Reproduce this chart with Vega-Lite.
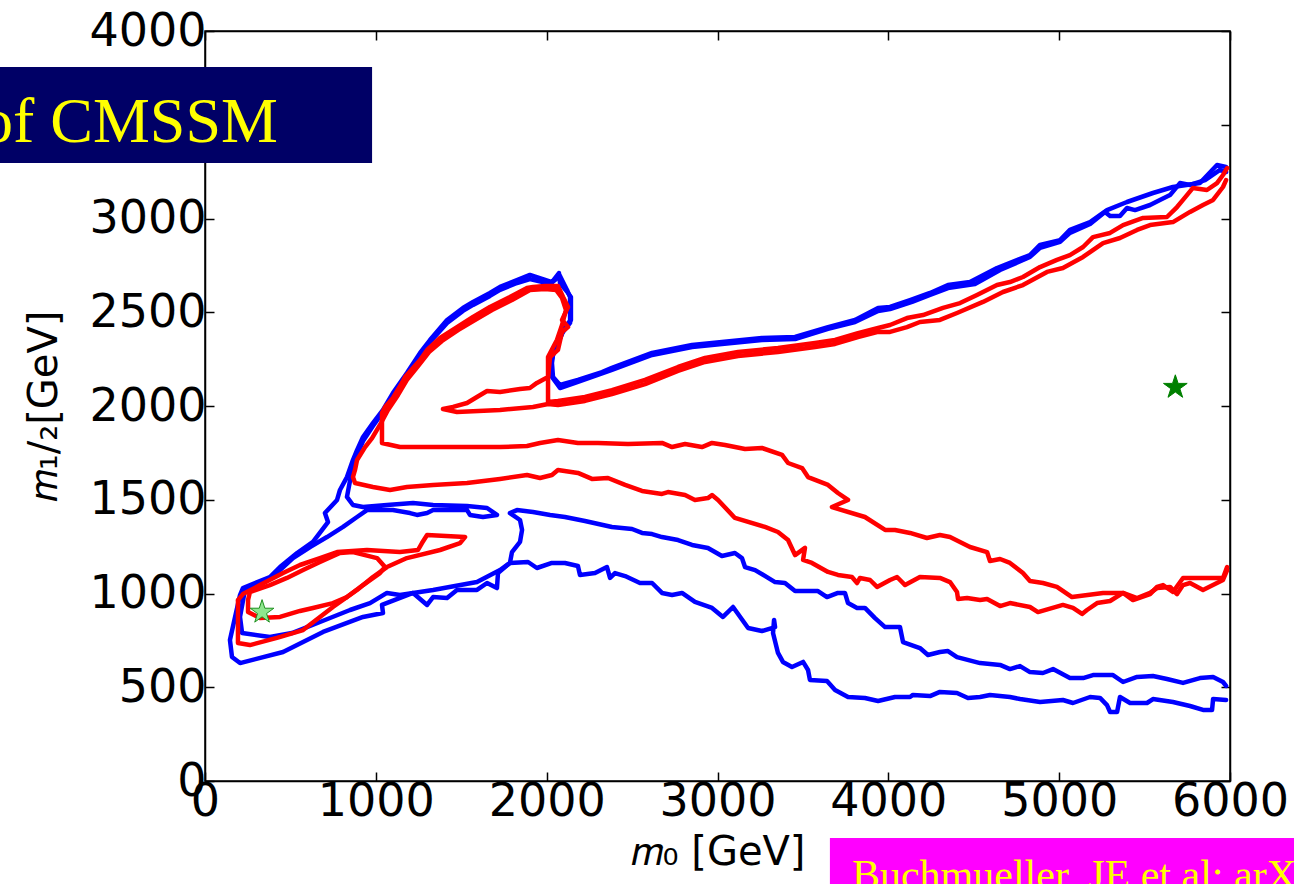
{
"$schema": "https://vega.github.io/schema/vega-lite/v6.json",
"width": 1025, "height": 750,
"autosize": {"type": "none"},
"padding": {"left": 205, "top": 31, "right": 64, "bottom": 103},
"background": "white",
"config": {"view": {"stroke": "black", "strokeWidth": 1.5}},
"datasets": {
"blue": [
{"c":"A","x":5977,"y":3275},{"c":"A","x":5924,"y":3285},{"c":"A","x":5824,"y":3189},{"c":"A","x":5666,"y":3168},{"c":"A","x":5549,"y":3136},{"c":"A","x":5397,"y":3088},{"c":"A","x":5280,"y":3045},{"c":"A","x":5181,"y":2981},{"c":"A","x":5063,"y":2939},{"c":"A","x":5005,"y":2885},{"c":"A","x":4888,"y":2859},{"c":"A","x":4829,"y":2805},{"c":"A","x":4636,"y":2736},{"c":"A","x":4478,"y":2661},{"c":"A","x":4349,"y":2645},{"c":"A","x":4244,"y":2603},{"c":"A","x":4127,"y":2565},{"c":"A","x":4010,"y":2528},{"c":"A","x":3940,"y":2523},{"c":"A","x":3805,"y":2459},{"c":"A","x":3647,"y":2421},{"c":"A","x":3454,"y":2368},{"c":"A","x":3260,"y":2363},{"c":"A","x":3026,"y":2341},{"c":"A","x":2851,"y":2325},{"c":"A","x":2617,"y":2283},{"c":"A","x":2382,"y":2203},{"c":"A","x":2324,"y":2181},{"c":"A","x":2183,"y":2139},{"c":"A","x":2078,"y":2112},{"c":"A","x":2037,"y":2155},{"c":"A","x":2031,"y":2229},{"c":"A","x":2037,"y":2272},{"c":"A","x":2107,"y":2421},{"c":"A","x":2142,"y":2459},{"c":"A","x":2142,"y":2581},{"c":"A","x":2125,"y":2603},{"c":"A","x":2078,"y":2656},{"c":"A","x":2072,"y":2709},{"c":"A","x":2031,"y":2661},{"c":"A","x":1902,"y":2699},{"c":"A","x":1826,"y":2672},{"c":"A","x":1727,"y":2635},{"c":"A","x":1668,"y":2603},{"c":"A","x":1569,"y":2555},{"c":"A","x":1510,"y":2523},{"c":"A","x":1417,"y":2459},{"c":"A","x":1317,"y":2352},{"c":"A","x":1259,"y":2283},{"c":"A","x":1182,"y":2176},{"c":"A","x":1100,"y":2069},{"c":"A","x":1042,"y":1979},{"c":"A","x":983,"y":1909},{"c":"A","x":925,"y":1835},{"c":"A","x":890,"y":1765},{"c":"A","x":866,"y":1712},{"c":"A","x":831,"y":1621},{"c":"A","x":790,"y":1552},{"c":"A","x":773,"y":1499},{"c":"A","x":702,"y":1429},{"c":"A","x":720,"y":1381},{"c":"A","x":632,"y":1275},{"c":"A","x":539,"y":1216},{"c":"A","x":439,"y":1141},{"c":"A","x":380,"y":1088},{"c":"A","x":222,"y":1029},{"c":"A","x":205,"y":992},{"c":"A","x":176,"y":875},{"c":"A","x":146,"y":752},{"c":"A","x":158,"y":661},{"c":"A","x":205,"y":629},{"c":"A","x":457,"y":688},{"c":"A","x":691,"y":795},{"c":"A","x":925,"y":875},{"c":"A","x":1042,"y":896},{"c":"A","x":1036,"y":939},{"c":"A","x":1218,"y":1003},{"c":"A","x":1300,"y":939},{"c":"A","x":1335,"y":981},{"c":"A","x":1417,"y":976},{"c":"A","x":1475,"y":1019},{"c":"A","x":1592,"y":1019},{"c":"A","x":1651,"y":1056},{"c":"A","x":1709,"y":1029},{"c":"A","x":1715,"y":1109},{"c":"A","x":1785,"y":1163},{"c":"A","x":1891,"y":1168},{"c":"A","x":1943,"y":1136},{"c":"A","x":2031,"y":1163},{"c":"A","x":2107,"y":1163},{"c":"A","x":2183,"y":1147},{"c":"A","x":2195,"y":1099},{"c":"A","x":2283,"y":1109},{"c":"A","x":2353,"y":1141},{"c":"A","x":2371,"y":1083},{"c":"A","x":2400,"y":1109},{"c":"A","x":2459,"y":1093},{"c":"A","x":2546,"y":1056},{"c":"A","x":2617,"y":1056},{"c":"A","x":2675,"y":1003},{"c":"A","x":2734,"y":992},{"c":"A","x":2792,"y":1003},{"c":"A","x":2868,"y":955},{"c":"A","x":2968,"y":923},{"c":"A","x":3032,"y":875},{"c":"A","x":3091,"y":928},{"c":"A","x":3179,"y":816},{"c":"A","x":3260,"y":800},{"c":"A","x":3337,"y":821},{"c":"A","x":3331,"y":859},{"c":"A","x":3325,"y":789},{"c":"A","x":3354,"y":683},{"c":"A","x":3383,"y":635},{"c":"A","x":3436,"y":608},{"c":"A","x":3501,"y":635},{"c":"A","x":3530,"y":592},{"c":"A","x":3541,"y":539},{"c":"A","x":3641,"y":533},{"c":"A","x":3688,"y":485},{"c":"A","x":3764,"y":448},{"c":"A","x":3863,"y":443},{"c":"A","x":3940,"y":427},{"c":"A","x":4039,"y":448},{"c":"A","x":4127,"y":448},{"c":"A","x":4144,"y":459},{"c":"A","x":4244,"y":453},{"c":"A","x":4302,"y":475},{"c":"A","x":4402,"y":469},{"c":"A","x":4466,"y":443},{"c":"A","x":4537,"y":448},{"c":"A","x":4595,"y":459},{"c":"A","x":4712,"y":448},{"c":"A","x":4771,"y":437},{"c":"A","x":4888,"y":421},{"c":"A","x":5022,"y":432},{"c":"A","x":5081,"y":416},{"c":"A","x":5181,"y":448},{"c":"A","x":5239,"y":443},{"c":"A","x":5280,"y":405},{"c":"A","x":5298,"y":368},{"c":"A","x":5339,"y":368},{"c":"A","x":5356,"y":448},{"c":"A","x":5415,"y":416},{"c":"A","x":5514,"y":416},{"c":"A","x":5549,"y":437},{"c":"A","x":5666,"y":421},{"c":"A","x":5766,"y":400},{"c":"A","x":5842,"y":379},{"c":"A","x":5895,"y":379},{"c":"A","x":5901,"y":437},{"c":"A","x":5977,"y":432},
{"c":"B","x":5977,"y":3248},{"c":"B","x":5941,"y":3259},{"c":"B","x":5854,"y":3205},{"c":"B","x":5766,"y":3179},{"c":"B","x":5707,"y":3189},{"c":"B","x":5649,"y":3125},{"c":"B","x":5590,"y":3099},{"c":"B","x":5532,"y":3072},{"c":"B","x":5444,"y":3045},{"c":"B","x":5397,"y":3056},{"c":"B","x":5356,"y":3013},{"c":"B","x":5298,"y":3013},{"c":"B","x":5268,"y":3035},{"c":"B","x":5181,"y":2971},{"c":"B","x":5063,"y":2923},{"c":"B","x":5005,"y":2875},{"c":"B","x":4888,"y":2843},{"c":"B","x":4829,"y":2795},{"c":"B","x":4654,"y":2725},{"c":"B","x":4507,"y":2651},{"c":"B","x":4349,"y":2629},{"c":"B","x":4244,"y":2592},{"c":"B","x":4139,"y":2555},{"c":"B","x":4010,"y":2517},{"c":"B","x":3940,"y":2507},{"c":"B","x":3805,"y":2448},{"c":"B","x":3647,"y":2411},{"c":"B","x":3454,"y":2357},{"c":"B","x":3260,"y":2352},{"c":"B","x":3026,"y":2331},{"c":"B","x":2851,"y":2315},{"c":"B","x":2617,"y":2272},{"c":"B","x":2382,"y":2192},{"c":"B","x":2183,"y":2128},{"c":"B","x":2078,"y":2096},{"c":"B","x":2031,"y":2155},{"c":"B","x":2025,"y":2229},{"c":"B","x":2037,"y":2272},{"c":"B","x":2090,"y":2389},{"c":"B","x":2137,"y":2443},{"c":"B","x":2137,"y":2581},{"c":"B","x":2119,"y":2619},{"c":"B","x":2078,"y":2693},{"c":"B","x":2020,"y":2651},{"c":"B","x":1902,"y":2677},{"c":"B","x":1826,"y":2656},{"c":"B","x":1727,"y":2619},{"c":"B","x":1668,"y":2587},{"c":"B","x":1569,"y":2539},{"c":"B","x":1510,"y":2507},{"c":"B","x":1417,"y":2443},{"c":"B","x":1317,"y":2341},{"c":"B","x":1259,"y":2267},{"c":"B","x":1182,"y":2160},{"c":"B","x":1100,"y":2053},{"c":"B","x":1042,"y":1968},{"c":"B","x":983,"y":1893},{"c":"B","x":925,"y":1813},{"c":"B","x":890,"y":1739},{"c":"B","x":866,"y":1685},{"c":"B","x":831,"y":1515},{"c":"B","x":866,"y":1472},{"c":"B","x":925,"y":1461},{"c":"B","x":1065,"y":1472},{"c":"B","x":1218,"y":1483},{"c":"B","x":1335,"y":1472},{"c":"B","x":1534,"y":1467},{"c":"B","x":1651,"y":1456},{"c":"B","x":1709,"y":1419},{"c":"B","x":1627,"y":1408},{"c":"B","x":1551,"y":1419},{"c":"B","x":1534,"y":1445},{"c":"B","x":1335,"y":1445},{"c":"B","x":1300,"y":1429},{"c":"B","x":1241,"y":1419},{"c":"B","x":1200,"y":1429},{"c":"B","x":1100,"y":1445},{"c":"B","x":948,"y":1445},{"c":"B","x":890,"y":1408},{"c":"B","x":808,"y":1355},{"c":"B","x":714,"y":1301},{"c":"B","x":615,"y":1248},{"c":"B","x":515,"y":1189},{"c":"B","x":439,"y":1125},{"c":"B","x":363,"y":1072},{"c":"B","x":234,"y":1019},{"c":"B","x":205,"y":875},{"c":"B","x":217,"y":789},{"c":"B","x":380,"y":768},{"c":"B","x":509,"y":789},{"c":"B","x":673,"y":848},{"c":"B","x":849,"y":912},{"c":"B","x":966,"y":949},{"c":"B","x":1065,"y":1003},{"c":"B","x":1141,"y":992},{"c":"B","x":1335,"y":1019},{"c":"B","x":1592,"y":1061},{"c":"B","x":1727,"y":1125},{"c":"B","x":1785,"y":1163},{"c":"B","x":1797,"y":1221},{"c":"B","x":1844,"y":1275},{"c":"B","x":1856,"y":1339},{"c":"B","x":1844,"y":1392},{"c":"B","x":1785,"y":1429},{"c":"B","x":1826,"y":1445},{"c":"B","x":1920,"y":1435},{"c":"B","x":2020,"y":1419},{"c":"B","x":2107,"y":1408},{"c":"B","x":2224,"y":1387},{"c":"B","x":2382,"y":1355},{"c":"B","x":2500,"y":1344},{"c":"B","x":2558,"y":1323},{"c":"B","x":2617,"y":1317},{"c":"B","x":2675,"y":1301},{"c":"B","x":2769,"y":1285},{"c":"B","x":2851,"y":1259},{"c":"B","x":2944,"y":1243},{"c":"B","x":3026,"y":1200},{"c":"B","x":3102,"y":1216},{"c":"B","x":3143,"y":1189},{"c":"B","x":3161,"y":1141},{"c":"B","x":3220,"y":1125},{"c":"B","x":3337,"y":1061},{"c":"B","x":3395,"y":1056},{"c":"B","x":3454,"y":1013},{"c":"B","x":3588,"y":1013},{"c":"B","x":3641,"y":981},{"c":"B","x":3705,"y":1003},{"c":"B","x":3746,"y":1003},{"c":"B","x":3764,"y":949},{"c":"B","x":3817,"y":923},{"c":"B","x":3863,"y":923},{"c":"B","x":3922,"y":869},{"c":"B","x":3981,"y":821},{"c":"B","x":4068,"y":821},{"c":"B","x":4086,"y":741},{"c":"B","x":4185,"y":709},{"c":"B","x":4232,"y":672},{"c":"B","x":4302,"y":688},{"c":"B","x":4349,"y":693},{"c":"B","x":4402,"y":661},{"c":"B","x":4537,"y":629},{"c":"B","x":4654,"y":619},{"c":"B","x":4712,"y":597},{"c":"B","x":4771,"y":613},{"c":"B","x":4829,"y":581},{"c":"B","x":4905,"y":576},{"c":"B","x":4964,"y":597},{"c":"B","x":5063,"y":549},{"c":"B","x":5140,"y":549},{"c":"B","x":5198,"y":565},{"c":"B","x":5315,"y":565},{"c":"B","x":5374,"y":528},{"c":"B","x":5456,"y":555},{"c":"B","x":5549,"y":560},{"c":"B","x":5631,"y":544},{"c":"B","x":5725,"y":523},{"c":"B","x":5824,"y":549},{"c":"B","x":5901,"y":555},{"c":"B","x":5959,"y":528},{"c":"B","x":5977,"y":507}
],
"red": [
{"c":"A","x":5983,"y":3269},{"c":"A","x":5959,"y":3232},{"c":"A","x":5924,"y":3189},{"c":"A","x":5865,"y":3152},{"c":"A","x":5783,"y":3163},{"c":"A","x":5725,"y":3099},{"c":"A","x":5690,"y":3061},{"c":"A","x":5631,"y":3008},{"c":"A","x":5491,"y":3003},{"c":"A","x":5374,"y":2965},{"c":"A","x":5298,"y":2923},{"c":"A","x":5198,"y":2901},{"c":"A","x":5140,"y":2848},{"c":"A","x":5063,"y":2805},{"c":"A","x":4987,"y":2779},{"c":"A","x":4888,"y":2741},{"c":"A","x":4788,"y":2688},{"c":"A","x":4712,"y":2661},{"c":"A","x":4636,"y":2645},{"c":"A","x":4519,"y":2592},{"c":"A","x":4420,"y":2549},{"c":"A","x":4320,"y":2523},{"c":"A","x":4203,"y":2485},{"c":"A","x":4109,"y":2469},{"c":"A","x":4010,"y":2432},{"c":"A","x":3940,"y":2416},{"c":"A","x":3822,"y":2389},{"c":"A","x":3688,"y":2352},{"c":"A","x":3571,"y":2336},{"c":"A","x":3354,"y":2309},{"c":"A","x":3120,"y":2288},{"c":"A","x":2927,"y":2256},{"c":"A","x":2769,"y":2208},{"c":"A","x":2576,"y":2139},{"c":"A","x":2382,"y":2085},{"c":"A","x":2224,"y":2048},{"c":"A","x":2066,"y":2027},{"c":"A","x":2008,"y":2021},{"c":"A","x":2008,"y":2155},{"c":"A","x":2020,"y":2261},{"c":"A","x":2066,"y":2299},{"c":"A","x":2090,"y":2395},{"c":"A","x":2125,"y":2421},{"c":"A","x":2090,"y":2459},{"c":"A","x":2125,"y":2528},{"c":"A","x":2096,"y":2581},{"c":"A","x":2066,"y":2640},{"c":"A","x":1990,"y":2640},{"c":"A","x":1920,"y":2635},{"c":"A","x":1885,"y":2629},{"c":"A","x":1785,"y":2581},{"c":"A","x":1668,"y":2528},{"c":"A","x":1569,"y":2475},{"c":"A","x":1475,"y":2421},{"c":"A","x":1376,"y":2363},{"c":"A","x":1300,"y":2299},{"c":"A","x":1259,"y":2245},{"c":"A","x":1171,"y":2155},{"c":"A","x":1153,"y":2123},{"c":"A","x":1100,"y":2043},{"c":"A","x":1054,"y":1995},{"c":"A","x":1036,"y":1963},{"c":"A","x":1036,"y":1803},{"c":"A","x":1141,"y":1781},{"c":"A","x":1335,"y":1781},{"c":"A","x":1534,"y":1781},{"c":"A","x":1727,"y":1781},{"c":"A","x":1885,"y":1787},{"c":"A","x":1961,"y":1803},{"c":"A","x":2066,"y":1819},{"c":"A","x":2183,"y":1803},{"c":"A","x":2300,"y":1803},{"c":"A","x":2476,"y":1797},{"c":"A","x":2675,"y":1803},{"c":"A","x":2734,"y":1781},{"c":"A","x":2810,"y":1797},{"c":"A","x":2909,"y":1781},{"c":"A","x":2968,"y":1803},{"c":"A","x":3044,"y":1792},{"c":"A","x":3161,"y":1771},{"c":"A","x":3260,"y":1776},{"c":"A","x":3378,"y":1739},{"c":"A","x":3413,"y":1696},{"c":"A","x":3495,"y":1669},{"c":"A","x":3530,"y":1621},{"c":"A","x":3647,"y":1579},{"c":"A","x":3705,"y":1536},{"c":"A","x":3764,"y":1499},{"c":"A","x":3670,"y":1461},{"c":"A","x":3863,"y":1408},{"c":"A","x":3981,"y":1339},{"c":"A","x":4039,"y":1339},{"c":"A","x":4127,"y":1323},{"c":"A","x":4226,"y":1296},{"c":"A","x":4302,"y":1312},{"c":"A","x":4361,"y":1301},{"c":"A","x":4478,"y":1248},{"c":"A","x":4578,"y":1221},{"c":"A","x":4595,"y":1173},{"c":"A","x":4654,"y":1184},{"c":"A","x":4712,"y":1163},{"c":"A","x":4788,"y":1109},{"c":"A","x":4829,"y":1067},{"c":"A","x":4905,"y":1056},{"c":"A","x":4987,"y":1035},{"c":"A","x":5075,"y":981},{"c":"A","x":5257,"y":1003},{"c":"A","x":5374,"y":1003},{"c":"A","x":5432,"y":965},{"c":"A","x":5532,"y":997},{"c":"A","x":5573,"y":1035},{"c":"A","x":5608,"y":1045},{"c":"A","x":5666,"y":1008},{"c":"A","x":5725,"y":1083},{"c":"A","x":5959,"y":1083},{"c":"A","x":5983,"y":1141},
{"c":"B","x":5977,"y":3205},{"c":"B","x":5959,"y":3168},{"c":"B","x":5901,"y":3099},{"c":"B","x":5842,"y":3072},{"c":"B","x":5766,"y":3035},{"c":"B","x":5666,"y":2981},{"c":"B","x":5532,"y":2965},{"c":"B","x":5456,"y":2939},{"c":"B","x":5356,"y":2896},{"c":"B","x":5257,"y":2869},{"c":"B","x":5140,"y":2795},{"c":"B","x":5022,"y":2736},{"c":"B","x":4929,"y":2715},{"c":"B","x":4788,"y":2645},{"c":"B","x":4671,"y":2608},{"c":"B","x":4554,"y":2555},{"c":"B","x":4402,"y":2496},{"c":"B","x":4302,"y":2459},{"c":"B","x":4185,"y":2448},{"c":"B","x":4109,"y":2421},{"c":"B","x":4010,"y":2395},{"c":"B","x":3940,"y":2395},{"c":"B","x":3822,"y":2368},{"c":"B","x":3688,"y":2331},{"c":"B","x":3571,"y":2315},{"c":"B","x":3354,"y":2288},{"c":"B","x":3120,"y":2267},{"c":"B","x":2927,"y":2235},{"c":"B","x":2769,"y":2187},{"c":"B","x":2576,"y":2117},{"c":"B","x":2382,"y":2064},{"c":"B","x":2224,"y":2027},{"c":"B","x":2066,"y":2005},{"c":"B","x":2008,"y":2011},{"c":"B","x":1920,"y":1995},{"c":"B","x":1727,"y":1979},{"c":"B","x":1475,"y":1968},{"c":"B","x":1393,"y":1984},{"c":"B","x":1452,"y":1995},{"c":"B","x":1534,"y":2016},{"c":"B","x":1592,"y":2048},{"c":"B","x":1651,"y":2080},{"c":"B","x":1727,"y":2075},{"c":"B","x":1844,"y":2091},{"c":"B","x":1902,"y":2096},{"c":"B","x":1943,"y":2123},{"c":"B","x":2008,"y":2155},{"c":"B","x":2008,"y":2261},{"c":"B","x":2060,"y":2352},{"c":"B","x":2090,"y":2432},{"c":"B","x":2113,"y":2512},{"c":"B","x":2090,"y":2576},{"c":"B","x":2055,"y":2619},{"c":"B","x":1990,"y":2624},{"c":"B","x":1902,"y":2619},{"c":"B","x":1797,"y":2565},{"c":"B","x":1680,"y":2512},{"c":"B","x":1580,"y":2459},{"c":"B","x":1481,"y":2405},{"c":"B","x":1387,"y":2347},{"c":"B","x":1311,"y":2288},{"c":"B","x":1247,"y":2213},{"c":"B","x":1182,"y":2139},{"c":"B","x":1130,"y":2059},{"c":"B","x":1071,"y":1979},{"c":"B","x":1024,"y":1899},{"c":"B","x":978,"y":1829},{"c":"B","x":937,"y":1781},{"c":"B","x":890,"y":1712},{"c":"B","x":878,"y":1659},{"c":"B","x":866,"y":1621},{"c":"B","x":878,"y":1589},{"c":"B","x":983,"y":1568},{"c":"B","x":1083,"y":1552},{"c":"B","x":1182,"y":1568},{"c":"B","x":1335,"y":1579},{"c":"B","x":1534,"y":1589},{"c":"B","x":1727,"y":1611},{"c":"B","x":1885,"y":1632},{"c":"B","x":1961,"y":1616},{"c":"B","x":2031,"y":1632},{"c":"B","x":2066,"y":1659},{"c":"B","x":2183,"y":1643},{"c":"B","x":2265,"y":1611},{"c":"B","x":2359,"y":1616},{"c":"B","x":2459,"y":1579},{"c":"B","x":2558,"y":1547},{"c":"B","x":2675,"y":1531},{"c":"B","x":2710,"y":1541},{"c":"B","x":2810,"y":1525},{"c":"B","x":2868,"y":1499},{"c":"B","x":2944,"y":1509},{"c":"B","x":2968,"y":1525},{"c":"B","x":3003,"y":1499},{"c":"B","x":3102,"y":1403},{"c":"B","x":3278,"y":1355},{"c":"B","x":3354,"y":1328},{"c":"B","x":3413,"y":1285},{"c":"B","x":3454,"y":1205},{"c":"B","x":3512,"y":1243},{"c":"B","x":3501,"y":1179},{"c":"B","x":3553,"y":1163},{"c":"B","x":3647,"y":1115},{"c":"B","x":3705,"y":1099},{"c":"B","x":3787,"y":1088},{"c":"B","x":3817,"y":1056},{"c":"B","x":3834,"y":1083},{"c":"B","x":3893,"y":1072},{"c":"B","x":3934,"y":1035},{"c":"B","x":4010,"y":1072},{"c":"B","x":4051,"y":1088},{"c":"B","x":4098,"y":1045},{"c":"B","x":4185,"y":1088},{"c":"B","x":4302,"y":1083},{"c":"B","x":4361,"y":1061},{"c":"B","x":4402,"y":1008},{"c":"B","x":4408,"y":971},{"c":"B","x":4461,"y":976},{"c":"B","x":4537,"y":965},{"c":"B","x":4578,"y":971},{"c":"B","x":4654,"y":933},{"c":"B","x":4712,"y":949},{"c":"B","x":4829,"y":928},{"c":"B","x":4876,"y":901},{"c":"B","x":5022,"y":939},{"c":"B","x":5081,"y":923},{"c":"B","x":5134,"y":891},{"c":"B","x":5163,"y":912},{"c":"B","x":5222,"y":949},{"c":"B","x":5298,"y":960},{"c":"B","x":5374,"y":1003},{"c":"B","x":5456,"y":976},{"c":"B","x":5532,"y":1003},{"c":"B","x":5573,"y":1029},{"c":"B","x":5649,"y":1035},{"c":"B","x":5690,"y":997},{"c":"B","x":5725,"y":1045},{"c":"B","x":5766,"y":1056},{"c":"B","x":5842,"y":1019},{"c":"B","x":5959,"y":1072},{"c":"B","x":5983,"y":1125},
{"c":"C","x":193,"y":965},{"c":"C","x":193,"y":736},{"c":"C","x":263,"y":725},{"c":"C","x":421,"y":763},{"c":"C","x":574,"y":805},{"c":"C","x":749,"y":928},{"c":"C","x":890,"y":1019},{"c":"C","x":983,"y":1088},{"c":"C","x":1065,"y":1141},{"c":"C","x":1182,"y":1189},{"c":"C","x":1376,"y":1232},{"c":"C","x":1493,"y":1269},{"c":"C","x":1522,"y":1301},{"c":"C","x":1300,"y":1312},{"c":"C","x":1270,"y":1269},{"c":"C","x":1247,"y":1232},{"c":"C","x":1141,"y":1221},{"c":"C","x":948,"y":1232},{"c":"C","x":773,"y":1221},{"c":"C","x":673,"y":1189},{"c":"C","x":556,"y":1152},{"c":"C","x":457,"y":1109},{"c":"C","x":322,"y":1045},{"c":"C","x":222,"y":997},{"c":"C","x":193,"y":965},
{"c":"D","x":252,"y":965},{"c":"D","x":252,"y":901},{"c":"D","x":322,"y":869},{"c":"D","x":439,"y":875},{"c":"D","x":556,"y":907},{"c":"D","x":632,"y":923},{"c":"D","x":749,"y":949},{"c":"D","x":831,"y":981},{"c":"D","x":925,"y":1045},{"c":"D","x":1024,"y":1109},{"c":"D","x":1054,"y":1141},{"c":"D","x":1007,"y":1189},{"c":"D","x":866,"y":1221},{"c":"D","x":790,"y":1216},{"c":"D","x":673,"y":1168},{"c":"D","x":574,"y":1125},{"c":"D","x":480,"y":1083},{"c":"D","x":380,"y":1045},{"c":"D","x":263,"y":1008},{"c":"D","x":252,"y":965}
],
"stars": [
{"name":"best fit","x":5680,"y":2100},
{"name":"local minimum","x":334,"y":901}
],
"boxes": [
{"name":"title","x":-1300,"x2":978,"y":3296,"y2":3808},
{"name":"ref","x":3658,"x2":7000,"y":-640,"y2":-304}
],
"notes": [
{"name":"title","text":"of CMSSM","x":427,"y":3410},
{"name":"ref","text":"Buchmueller, JE et al: arXiv:1312.5250","x":3787,"y":-578}
]
},
"layer": [
{
"data": {"name": "blue"},
"mark": {"type": "line", "strokeWidth": 4.5, "strokeJoin": "round", "strokeCap": "round", "color": "#0000ff"},
"encoding": {
"x": {"field": "x", "type": "quantitative", "scale": {"domain": [0, 6000], "nice": false, "zero": false},
 "axis": {"orient": "bottom", "values": [0,1000,2000,3000,4000,5000,6000], "format": "d", "grid": false, "tickSize": -9, "tickWidth": 1.5, "tickColor": "black", "domainColor": "black", "domainWidth": 1.5, "labelFont": "DejaVu Sans", "labelFontSize": 46, "labelColor": "black", "labelPadding": 7, "labelFlush": false, "labelOverlap": false, "title": "𝑚₀ [GeV]", "titleFont": "DejaVu Sans", "titleFontSize": 40, "titleFontWeight": "normal", "titleColor": "black", "titlePadding": 8}},
"y": {"field": "y", "type": "quantitative", "scale": {"domain": [0, 4000], "nice": false, "zero": false},
 "axis": {"orient": "left", "values": [0,500,1000,1500,2000,2500,3000,3500,4000], "format": "d", "labelExpr": "datum.value == 3500 ? '' : datum.label", "grid": false, "tickSize": -9, "tickWidth": 1.5, "tickColor": "black", "domainColor": "black", "domainWidth": 1.5, "labelFont": "DejaVu Sans", "labelFontSize": 46, "labelColor": "black", "labelPadding": 8, "labelFlush": false, "labelOverlap": false, "title": "𝑚₁/₂[GeV]", "titleFont": "DejaVu Sans", "titleFontSize": 40, "titleFontWeight": "normal", "titleColor": "black", "titlePadding": 24}},
"detail": {"field": "c"},
"order": {"value": null}
}
},
{
"data": {"name": "red"},
"mark": {"type": "line", "strokeWidth": 4.5, "strokeJoin": "round", "strokeCap": "round", "color": "#ff0000"},
"encoding": {
"x": {"field": "x", "type": "quantitative", "axis": null},
"y": {"field": "y", "type": "quantitative", "axis": null},
"detail": {"field": "c"},
"order": {"value": null}
}
},
{
"data": {"name": "stars"},
"mark": {"type": "point", "filled": true, "shape": "M0,-1L0.2245,-0.309L0.951,-0.309L0.363,0.118L0.588,0.809L0,0.382L-0.588,0.809L-0.363,0.118L-0.951,-0.309L-0.2245,-0.309Z", "size": 620, "opacity": 1, "strokeWidth": 1},
"encoding": {
"x": {"field": "x", "type": "quantitative", "axis": {"orient": "top", "values": [0,1000,2000,3000,4000,5000,6000], "labels": false, "title": null, "grid": false, "tickSize": -9, "tickWidth": 1.5, "tickColor": "black", "domainColor": "black", "domainWidth": 1.5}},
"y": {"field": "y", "type": "quantitative", "axis": {"orient": "right", "values": [0,500,1000,1500,2000,2500,3000,3500,4000], "labels": false, "title": null, "grid": false, "tickSize": -9, "tickWidth": 1.5, "tickColor": "black", "domainColor": "black", "domainWidth": 1.5}},
"fill": {"field": "name", "type": "nominal", "scale": {"domain": ["best fit", "local minimum"], "range": ["#008000", "#8ee68e"]}, "legend": null},
"stroke": {"field": "name", "type": "nominal", "scale": {"domain": ["best fit", "local minimum"], "range": ["#008000", "#1f8f1f"]}, "legend": null}
}
},
{
"data": {"name": "boxes"},
"mark": {"type": "rect", "clip": false},
"encoding": {
"x": {"field": "x", "type": "quantitative", "axis": null},
"x2": {"field": "x2"},
"y": {"field": "y", "type": "quantitative", "axis": null},
"y2": {"field": "y2"},
"color": {"field": "name", "type": "nominal", "scale": {"domain": ["title", "ref"], "range": ["#000066", "#ff00ff"]}, "legend": null}
}
},
{
"data": {"name": "notes"},
"transform": [{"filter": "datum.name == 'title'"}],
"mark": {"type": "text", "clip": false, "font": "Liberation Serif", "fontSize": 64, "color": "#ffff00", "align": "right", "baseline": "alphabetic"},
"encoding": {
"x": {"field": "x", "type": "quantitative", "axis": null},
"y": {"field": "y", "type": "quantitative", "axis": null},
"text": {"field": "text"}
}
},
{
"data": {"name": "notes"},
"transform": [{"filter": "datum.name == 'ref'"}],
"mark": {"type": "text", "clip": false, "font": "Liberation Serif", "fontSize": 42, "color": "#ffff00", "align": "left", "baseline": "alphabetic"},
"encoding": {
"x": {"field": "x", "type": "quantitative", "axis": null},
"y": {"field": "y", "type": "quantitative", "axis": null},
"text": {"field": "text"}
}
}
],
"resolve": {"axis": {"x": "independent", "y": "independent"}}
}
